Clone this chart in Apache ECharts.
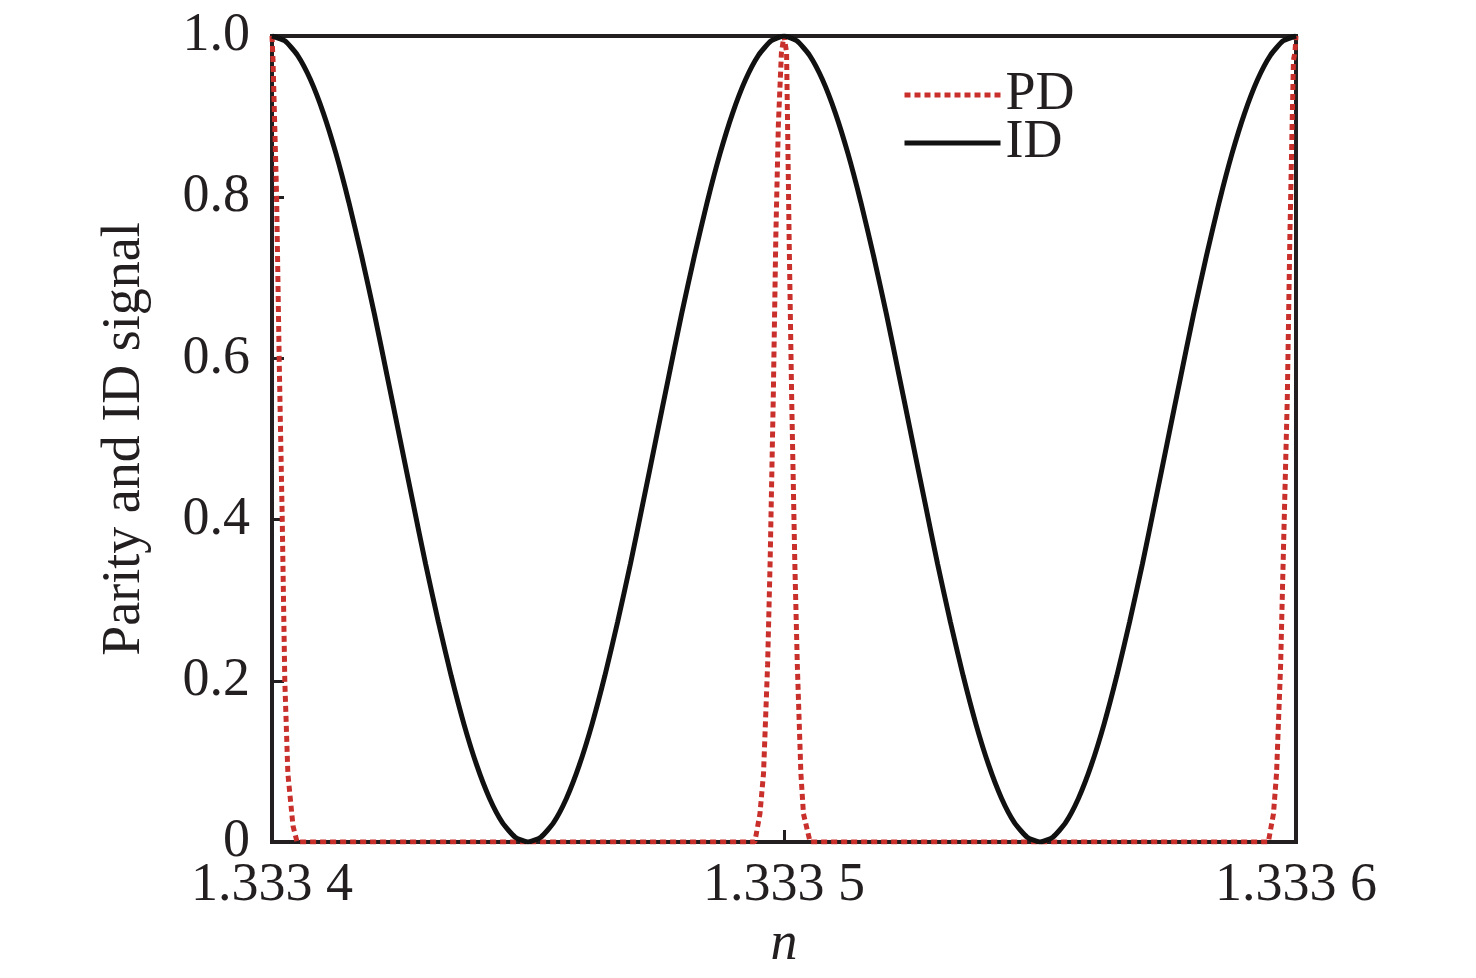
<!DOCTYPE html>
<html>
<head>
<meta charset="utf-8">
<script src="https://cdn.jsdelivr.net/npm/echarts@6/dist/echarts.min.js"></script>
<style>
html,body{margin:0;padding:0;background:#fff;}
#c{width:1476px;height:978px;}
</style>
</head>
<body>
<div id="c"></div>
<script>
// ---- data ----
var xTickLabels = ['1.333 4', '1.333 5', '1.333 6'];
var yTickLabels = ['0', '0.2', '0.4', '0.6', '0.8', '1.0'];

// ID signal: n values (step 0.0000025) and signal
var idN = [
  1.3334000,1.3334025,1.3334050,1.3334075,1.3334100,1.3334125,1.3334150,1.3334175,1.3334200,1.3334225,
  1.3334250,1.3334275,1.3334300,1.3334325,1.3334350,1.3334375,1.3334400,1.3334425,1.3334450,1.3334475,
  1.3334500,1.3334525,1.3334550,1.3334575,1.3334600,1.3334625,1.3334650,1.3334675,1.3334700,1.3334725,
  1.3334750,1.3334775,1.3334800,1.3334825,1.3334850,1.3334875,1.3334900,1.3334925,1.3334950,1.3334975,
  1.3335000,1.3335025,1.3335050,1.3335075,1.3335100,1.3335125,1.3335150,1.3335175,1.3335200,1.3335225,
  1.3335250,1.3335275,1.3335300,1.3335325,1.3335350,1.3335375,1.3335400,1.3335425,1.3335450,1.3335475,
  1.3335500,1.3335525,1.3335550,1.3335575,1.3335600,1.3335625,1.3335650,1.3335675,1.3335700,1.3335725,
  1.3335750,1.3335775,1.3335800,1.3335825,1.3335850,1.3335875,1.3335900,1.3335925,1.3335950,1.3335975,
  1.3336000
];
var idVal = [
  1.000,0.994,0.976,0.946,0.905,0.854,0.794,0.727,0.655,0.578,
  0.500,0.422,0.345,0.273,0.206,0.146,0.095,0.054,0.024,0.006,
  0.000,0.006,0.024,0.054,0.095,0.146,0.206,0.273,0.345,0.422,
  0.500,0.578,0.655,0.727,0.794,0.854,0.905,0.946,0.976,0.994,
  1.000,0.994,0.976,0.946,0.905,0.854,0.794,0.727,0.655,0.578,
  0.500,0.422,0.345,0.273,0.206,0.146,0.095,0.054,0.024,0.006,
  0.000,0.006,0.024,0.054,0.095,0.146,0.206,0.273,0.345,0.422,
  0.500,0.578,0.655,0.727,0.794,0.854,0.905,0.946,0.976,0.994,
  1.000
];

// Parity signal
var pdN = [
  1.3334000,1.3334002,1.3334009,1.3334014,1.3334020,1.3334025,1.3334031,1.3334041,1.3334049,
  1.3334943,1.3334953,1.3334960,1.3334968,1.3334973,1.3334979,1.3334984,1.3334989,1.3334995,
  1.3335000,
  1.3335005,1.3335007,1.3335010,1.3335015,1.3335021,1.3335026,1.3335033,1.3335038,1.3335051,
  1.3335946,1.3335956,1.3335962,1.3335970,1.3335975,1.3335983,1.3335988,1.3335995,1.3335998,
  1.3336000
];
var pdVal = [
  1.00,0.97,0.80,0.60,0.40,0.20,0.085,0.02,0.00,
  0.00,0.035,0.085,0.22,0.35,0.55,0.75,0.89,0.98,
  1.00,
  0.98,0.89,0.75,0.55,0.35,0.22,0.085,0.035,0.00,
  0.00,0.035,0.085,0.22,0.35,0.55,0.75,0.97,0.98,
  1.00
];

var xMin = 1.3334, xMax = 1.3336, xStep = 0.0001;
var FONT = '"Liberation Serif", "Times New Roman", serif';
var FS = 54;
var TXT = '#231f20';
var RED = '#c9302c';
var BLK = '#111';

function pairs(a, b) { return a.map(function (v, i) { return [v, b[i]]; }); }

var chart = echarts.init(document.getElementById('c'));
chart.setOption({
  animation: false,
  backgroundColor: '#fff',
  grid: {
    left: 272, right: 180, top: 36, bottom: 136,
    outerBoundsMode: 'none', containLabel: false,
    show: true, borderColor: TXT, borderWidth: 4, backgroundColor: 'transparent'
  },
  legend: {
    orient: 'vertical',
    left: 902, top: 68, padding: 0,
    itemWidth: 96, itemHeight: 20, itemGap: -6,
    textStyle: { fontFamily: FONT, fontSize: FS, color: TXT },
    itemStyle: { opacity: 0 },
    data: [
      { name: 'PD', lineStyle: { color: RED, width: 5, type: [6, 4] }, itemStyle: { opacity: 0 } },
      { name: 'ID', lineStyle: { color: BLK, width: 5, type: 'solid' }, itemStyle: { opacity: 0 } }
    ]
  },
  xAxis: {
    type: 'value', min: xMin, max: xMax, interval: xStep,
    name: 'n', nameLocation: 'middle', nameGap: 70,
    nameTextStyle: { fontFamily: FONT, fontSize: FS, fontStyle: 'italic', color: TXT },
    axisLine: { lineStyle: { color: TXT, width: 4 } },
    axisTick: { inside: true, length: 12, lineStyle: { color: TXT, width: 3 } },
    splitLine: { show: false },
    axisLabel: {
      fontFamily: FONT, fontSize: FS, color: TXT, margin: 17,
      formatter: function (v) { return xTickLabels[Math.round((v - xMin) / xStep)]; }
    }
  },
  yAxis: {
    type: 'value', min: 0, max: 1, interval: 0.2,
    name: 'Parity and ID signal', nameLocation: 'middle', nameGap: 120,
    nameTextStyle: { fontFamily: FONT, fontSize: FS, color: TXT },
    axisLine: { lineStyle: { color: TXT, width: 4 } },
    axisTick: { inside: true, length: 12, lineStyle: { color: TXT, width: 3 } },
    splitLine: { show: false },
    axisLabel: {
      fontFamily: FONT, fontSize: FS, color: TXT, margin: 22,
      formatter: function (v) { return yTickLabels[Math.round(v / 0.2)]; }
    }
  },
  series: [
    {
      name: 'PD', type: 'line', data: pairs(pdN, pdVal),
      showSymbol: false, symbol: 'none', z: 3,
      lineStyle: { color: RED, width: 5, type: [6, 4] },
      itemStyle: { color: RED }
    },
    {
      name: 'ID', type: 'line', data: pairs(idN, idVal),
      showSymbol: false, symbol: 'none', smooth: 0.2, z: 4,
      lineStyle: { color: BLK, width: 5 },
      itemStyle: { color: BLK }
    }
  ]
});
</script>
</body>
</html>
